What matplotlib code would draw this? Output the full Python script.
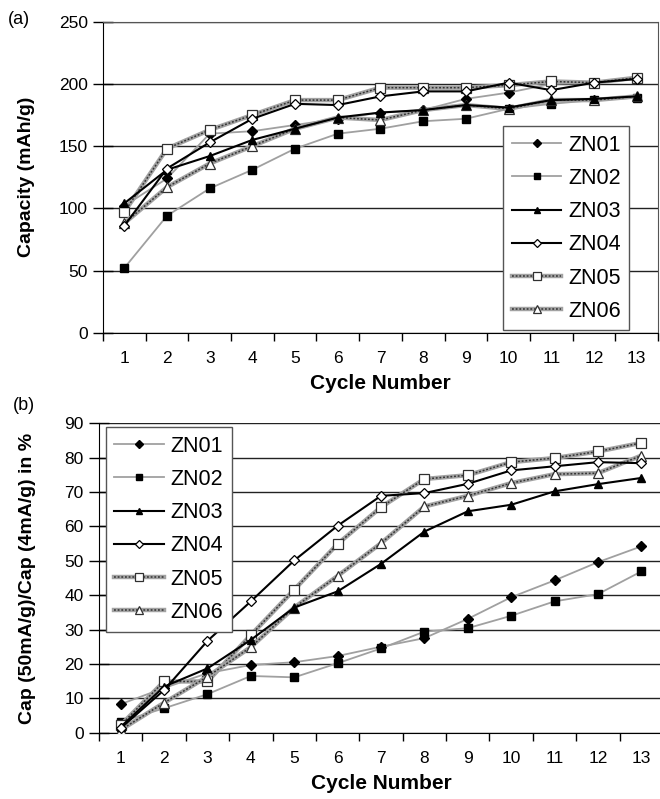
import matplotlib
matplotlib.use("Agg")
import matplotlib.pyplot as plt
from matplotlib.legend_handler import HandlerTuple

plt.rcParams['font.family'] = ['Liberation Sans', 'DejaVu Sans']

cycles = list(range(1, 14))
names = ["ZN01", "ZN02", "ZN03", "ZN04", "ZN05", "ZN06"]

# discharge capacity (mAh/g)
cap_zn01 = [102, 124, 160, 162, 167, 172, 177, 179, 188, 193, 200, 201, 204]
cap_zn02 = [52, 94, 116, 131, 148, 160, 164, 170, 172, 180, 184, 187, 189]
cap_zn03 = [104, 131, 142, 155, 164, 173, 177, 179, 183, 181, 187, 188, 190]
cap_zn04 = [86, 132, 153, 172, 184, 183, 190, 194, 194, 201, 195, 201, 204]
cap_zn05 = [97, 148, 163, 175, 187, 187, 197, 197, 197, 199, 202, 201, 205]
cap_zn06 = [88, 117, 136, 150, 164, 173, 171, 179, 183, 180, 187, 187, 190]

# rate capability, Cap(50mA/g)/Cap(4mA/g) in %
rate_zn01 = [8.3, 13.0, 17.3, 19.7, 20.5, 22.3, 25.0, 27.5, 33.1, 39.4, 44.3, 49.6, 54.2]
rate_zn02 = [3.2, 7.1, 11.2, 16.5, 16.1, 20.2, 24.5, 29.4, 30.4, 34.0, 38.2, 40.3, 46.9]
rate_zn03 = [1.7, 13.4, 18.7, 27.0, 36.4, 41.1, 49.1, 58.5, 64.4, 66.3, 70.2, 72.3, 74.1]
rate_zn04 = [1.3, 12.4, 26.7, 38.2, 50.1, 60.2, 68.9, 69.7, 72.4, 76.3, 77.5, 78.7, 78.4]
rate_zn05 = [2.2, 14.9, 14.9, 28.4, 41.6, 54.9, 65.6, 73.8, 74.9, 78.7, 79.9, 81.8, 84.3]
rate_zn06 = [0.8, 8.7, 16.3, 24.9, 36.4, 45.6, 55.1, 65.8, 68.9, 72.6, 75.2, 75.5, 80.6]

cap_data = [cap_zn01, cap_zn02, cap_zn03, cap_zn04, cap_zn05, cap_zn06]
rate_data = [rate_zn01, rate_zn02, rate_zn03, rate_zn04, rate_zn05, rate_zn06]


def draw_series(ax, data):
    handles = []
    for i, y in enumerate(data):
        if i == 0:
            h = ax.plot(cycles, y, color='#a0a0a0', lw=1.3, marker='D', ms=5,
                        mfc='black', mec='black', zorder=3)
        elif i == 1:
            h = ax.plot(cycles, y, color='#a0a0a0', lw=1.3, marker='s', ms=5.5,
                        mfc='black', mec='black', zorder=3)
        elif i == 2:
            h = ax.plot(cycles, y, color='black', lw=1.5, marker='^', ms=6,
                        mfc='black', mec='black', zorder=4)
        elif i == 3:
            h = ax.plot(cycles, y, color='black', lw=1.5, marker='D', ms=5,
                        mfc='white', mec='black', mew=0.9, zorder=4)
        else:
            # thick grey line with a dark dotted texture on top
            mk = 's' if i == 4 else '^'
            base = ax.plot(cycles, y, color='#a2a2a2', lw=3.2, zorder=3)[0]
            top = ax.plot(cycles, y, color='#333333', lw=1.1, ls=(0, (1.2, 1.2)),
                          marker=mk, ms=6.5, mfc='white', mec='#303030', mew=0.9,
                          zorder=3)[0]
            handles.append((base, top))
            continue
        handles.append(h[0])
    return handles


def style_axes(ax, ymax, ystep):
    ax.set_xlim(0.5, 13.5)
    ax.set_ylim(0, ymax)
    ax.set_yticks(range(0, ymax + 1, ystep))
    ax.set_xticks(cycles)
    ax.set_xticks([c + 0.5 for c in range(0, 14)], minor=True)
    ax.tick_params(axis='x', which='major', length=0, pad=13, labelsize=12.5)
    ax.tick_params(axis='x', which='minor', length=6, direction='out', width=1)
    ax.tick_params(axis='y', which='major', length=14, direction='inout',
                   width=1, pad=4, labelsize=12.5)
    ax.yaxis.grid(True, color='#222222', lw=1)
    ax.set_axisbelow(True)
    ax.spines['left'].set_color('black')
    ax.spines['bottom'].set_color('black')
    ax.set_xlabel("Cycle Number", fontsize=15, fontweight='bold', labelpad=6)


def add_legend(ax, handles, **kw):
    leg = ax.legend(handles, names, borderaxespad=0, fontsize=15.5,
                    handlelength=2.3, handletextpad=0.3, labelspacing=0.57,
                    markerscale=0.8, borderpad=0.4,
                    fancybox=False, edgecolor='#555555', framealpha=1,
                    handler_map={tuple: HandlerTuple(ndivide=1)}, **kw)
    leg.get_frame().set_linewidth(1)
    return leg


fig = plt.figure(figsize=(6.6, 7.99), dpi=100)

ax1 = fig.add_axes([0.156, 0.5836, 0.841, 0.3892])
h1 = draw_series(ax1, cap_data)
style_axes(ax1, 250, 50)
for s in ('top', 'right'):
    ax1.spines[s].set_color('#555555')
ax1.set_ylabel("Capacity (mAh/g)", fontsize=14, fontweight='bold')
ax1.yaxis.set_label_coords(-0.122, 0.5)
add_legend(ax1, h1, loc='upper right', bbox_to_anchor=(0.948, 0.665))

ax2 = fig.add_axes([0.15, 0.083, 0.8545, 0.3872])
h2 = draw_series(ax2, rate_data)
style_axes(ax2, 90, 10)
ax2.spines['top'].set_visible(False)
ax2.spines['right'].set_visible(False)
ax2.set_ylabel("Cap (50mA/g)/Cap (4mA/g) in %", fontsize=14, fontweight='bold')
ax2.yaxis.set_label_coords(-0.112, 0.5)
add_legend(ax2, h2, loc='upper left', bbox_to_anchor=(0.012, 0.988))

fig.text(0.012, 0.975, "(a)", fontsize=13, va='center', ha='left')
fig.text(0.02, 0.492, "(b)", fontsize=13, va='center', ha='left')

fig.savefig("out.png", dpi=100)
